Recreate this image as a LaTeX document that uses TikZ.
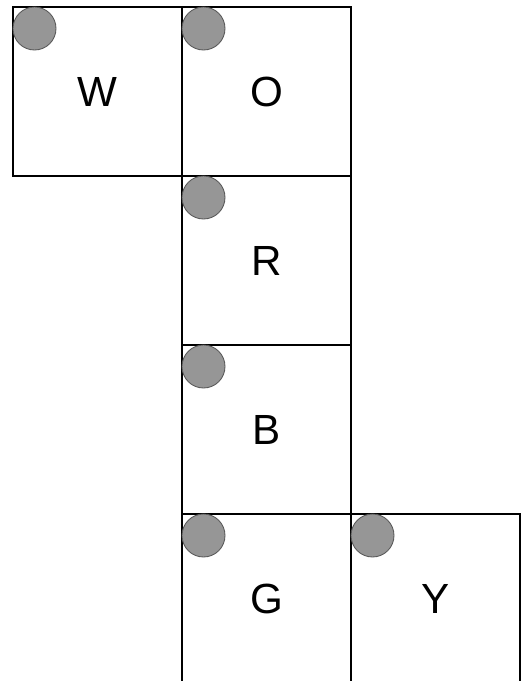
\documentclass[tikz,border=0pt]{standalone}
\usepackage{fontspec}
\setmainfont{Liberation Sans}
\usetikzlibrary{positioning}
\tikzset{
  face/.style={draw, line width=0.6pt, minimum size=3.38cm, inner sep=0pt, outer sep=0pt, font=\fontsize{24}{28}\selectfont},
  dot/.style={circle, draw=black!65, fill=black!41, line width=0.5pt, minimum size=0.86cm, inner sep=0pt, outer sep=0pt}
}

\begin{document}
\begin{tikzpicture}[node distance=0pt]
        \useasboundingbox (0,0) rectangle (10.42,-13.62);
        \clip (0,0) rectangle (10.42,-13.62);
        \node[face, anchor=north west] (w) at (0.26,-0.14) {W};
        \node[face, right=of w] (o) {O};
        \node[face, below=of o] (r) {R};
        \node[face, below=of r] (b) {B};
        \node[face, below=of b] (g) {G};
        \node[face, right=of g] (y) {Y};
        % corner markers
        \foreach \f in {w,o,r,b,g,y}
          \node[dot] (\f dot) at ([shift={(0.43,-0.43)}]\f.north west) {};
      \end{tikzpicture}
\end{document}
